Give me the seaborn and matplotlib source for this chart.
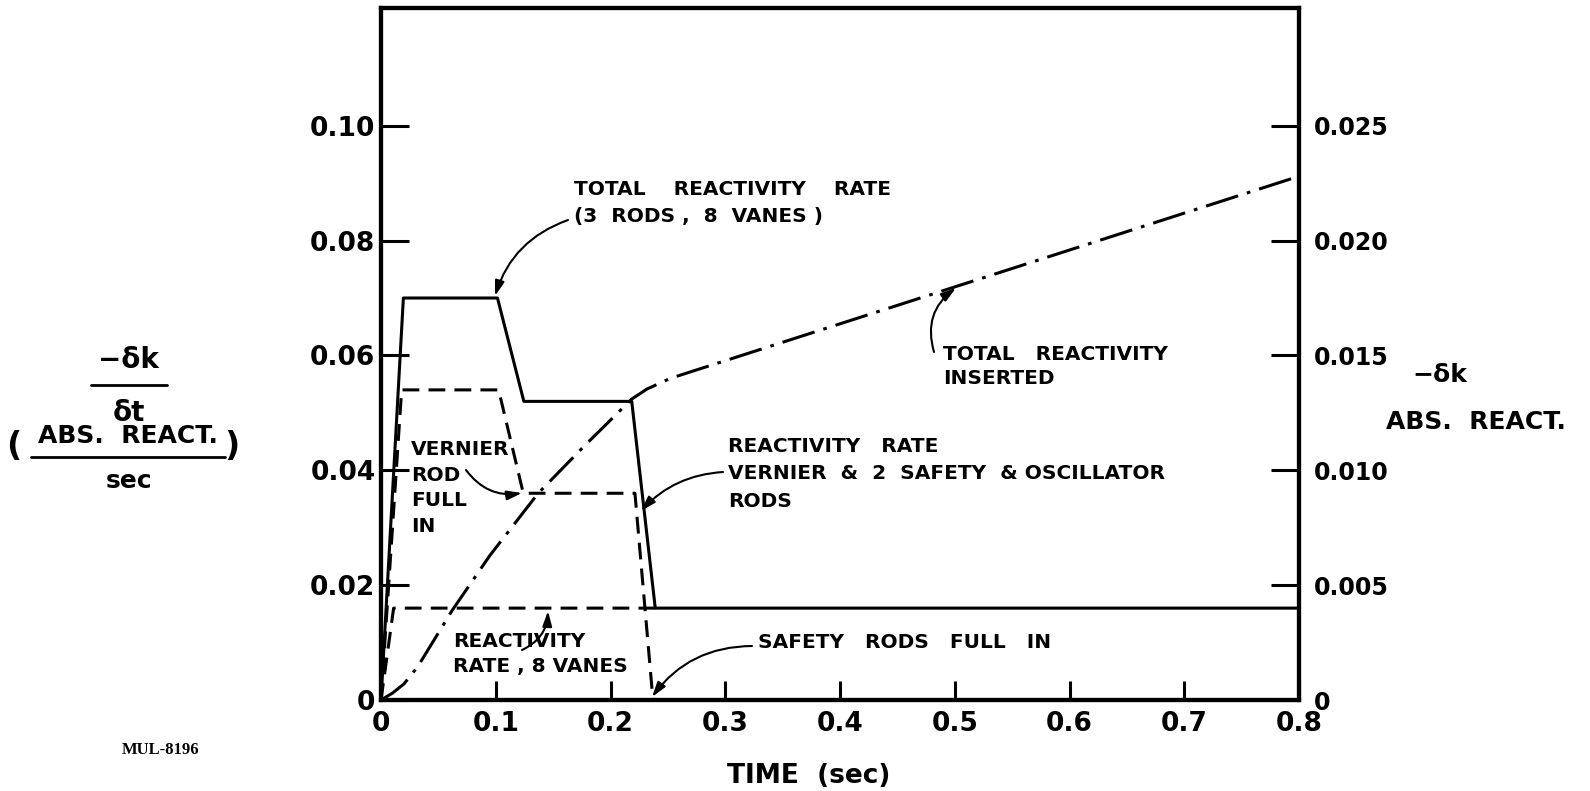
import matplotlib
matplotlib.use("Agg")
import matplotlib.pyplot as plt
import seaborn as sns
from matplotlib.lines import Line2D

# Time (s) and reactivity rate curves (abs. react. / s), left-hand scale
t_total = [0.0, 0.0195, 0.1015, 0.1245, 0.2185, 0.239, 0.8]
rate_total = [0.0, 0.070, 0.070, 0.052, 0.052, 0.016, 0.016]

t_rods = [0.0, 0.018, 0.1025, 0.124, 0.2213, 0.237]
rate_rods = [0.0, 0.054, 0.054, 0.036, 0.036, 0.0]

t_vanes = [0.0, 0.011, 0.239]
rate_vanes = [0.0, 0.016, 0.016]

# Total reactivity inserted (abs. react.), right-hand scale
t_inserted = [0.0, 0.01, 0.02, 0.032, 0.062, 0.095, 0.137, 0.178, 0.2185,
              0.2315, 0.252, 0.8]
dk_inserted = [0.0, 0.0003, 0.0007, 0.00145, 0.0039, 0.0063, 0.0090, 0.0111,
               0.0131, 0.01353, 0.0140, 0.0228]

x_ticks = [0.0, 0.1, 0.2, 0.3, 0.4, 0.5, 0.6, 0.7, 0.8]
x_labels = ["0", "0.1", "0.2", "0.3", "0.4", "0.5", "0.6", "0.7", "0.8"]
rate_ticks = [0.0, 0.02, 0.04, 0.06, 0.08, 0.10]
rate_labels = ["0", "0.02", "0.04", "0.06", "0.08", "0.10"]
dk_ticks = [0.0, 0.005, 0.010, 0.015, 0.020, 0.025]
dk_labels = ["0", "0.005", "0.010", "0.015", "0.020", "0.025"]

RATE_MAX = 0.1205
W, H = 1590, 791

sns.set_style("ticks")
plt.rcParams["font.family"] = ["DejaVu Sans"]
plt.rcParams["font.weight"] = "bold"
for key in ("text.color", "axes.labelcolor", "xtick.color", "ytick.color",
            "xtick.labelcolor", "ytick.labelcolor", "axes.edgecolor"):
    plt.rcParams[key] = "black"

fig = plt.figure(figsize=(W / 100, H / 100), dpi=100)
ax = fig.add_axes([381 / W, 1 - 700 / H, (1299 - 381) / W, (700 - 8) / H])
ax2 = ax.twinx()

lw = 2.2
sns.lineplot(x=t_vanes, y=rate_vanes, ax=ax, color="black", lw=lw,
             linestyle=(0, (5.5, 3)), sort=False, estimator=None)
sns.lineplot(x=t_rods, y=rate_rods, ax=ax, color="black", lw=lw,
             linestyle=(0, (5.5, 3)), sort=False, estimator=None)
sns.lineplot(x=t_total, y=rate_total, ax=ax, color="black", lw=lw,
             sort=False, estimator=None)
sns.lineplot(x=t_inserted, y=dk_inserted, ax=ax2, color="black", lw=lw,
             linestyle=(0, (11, 3, 1.2, 3)), sort=False, estimator=None)

ax.set_xlim(0, 0.8)
ax.set_ylim(0, RATE_MAX)
ax2.set_ylim(0, RATE_MAX / 4)

ax.set_xticks(x_ticks)
ax.set_xticklabels(x_labels)
ax.set_yticks(rate_ticks)
ax.set_yticklabels(rate_labels)
ax2.set_yticks(dk_ticks)
ax2.set_yticklabels(dk_labels)

ax.tick_params(axis="x", direction="in", length=14, width=2.2, pad=8,
               labelsize=19, top=False, colors="black")
ax.tick_params(axis="y", direction="in", length=20, width=2.2, pad=4,
               labelsize=19, right=False, colors="black")
ax2.tick_params(axis="y", direction="in", length=20, width=2.2, pad=11,
                labelsize=17, colors="black")
for a in (ax, ax2):
    for s in a.spines.values():
        s.set_visible(True)
        s.set_linewidth(3)
        s.set_color("black")
ax.set_xlabel("")
ax.set_ylabel("")
ax2.set_ylabel("")

# Annotations
ann_font = dict(fontsize=14.5, fontweight="bold", color="black",
                va="center", ha="left", linespacing=1.45)
arrow = dict(arrowstyle="-|>,head_length=0.9,head_width=0.28", lw=1.5,
             color="black", shrinkA=0, shrinkB=0)


def px_to_data(px, py):
    return (px - 381) / 1147.5, (700 - py) / 5743.0


def label(px, py, text):
    x, y = px_to_data(px, py)
    ax.text(x, y, text, **ann_font)


def pointer(tail, head, rad):
    ax.annotate("", xy=px_to_data(*head), xytext=px_to_data(*tail),
                arrowprops=dict(connectionstyle=f"arc3,rad={rad}", **arrow))


label(574, 189, "TOTAL    REACTIVITY    RATE")
label(574, 216, "(3  RODS ,  8  VANES )")
pointer((568, 220), (495, 296), 0.25)

label(411, 488, "VERNIER\nROD\nFULL\nIN")
pointer((466, 470), (522, 493), 0.3)

label(943, 354, "TOTAL   REACTIVITY")
label(943, 378, "INSERTED")
pointer((934, 352), (956, 288), -0.35)

label(728, 446, "REACTIVITY   RATE")
label(728, 473.5, "VERNIER  &  2  SAFETY  & OSCILLATOR")
label(728, 501, "RODS")
pointer((723, 472), (641, 511), 0.2)

label(453, 641, "REACTIVITY")
label(453, 666, "RATE , 8 VANES")
pointer((522, 650), (548, 611), 0.3)

label(758, 642, "SAFETY   RODS   FULL   IN")
pointer((752, 646), (652, 697), 0.25)


# Axis titles and fraction labels placed in figure pixels
def ftext(px, py, s, **kw):
    fig.text(px / W, 1 - py / H, s, **kw)


def fbar(x0, x1, py, lw_=2.0):
    fig.add_artist(Line2D([x0 / W, x1 / W], [1 - py / H, 1 - py / H],
                          transform=fig.transFigure, color="black", lw=lw_))


lab = dict(ha="center", va="center", fontweight="bold", color="black")
ftext(128, 360, "\u2212\u03b4k", fontsize=20, **lab)
fbar(91, 167, 385)
ftext(129, 413, "\u03b4t", fontsize=20, **lab)
ftext(14, 446, "(", fontsize=24, **lab)
ftext(128, 436, "ABS.  REACT.", fontsize=18, **lab)
fbar(31, 225, 457)
ftext(129, 481, "sec", fontsize=18, **lab)
ftext(232, 446, ")", fontsize=24, **lab)

ftext(1440, 375, "\u2212\u03b4k", fontsize=18, **lab)
ftext(1476, 422, "ABS.  REACT.", fontsize=18, **lab)

ftext(809, 776, "TIME  (sec)", fontsize=19, **lab)
ftext(122, 750, "MUL-8196", fontsize=12, ha="left", va="center",
      fontweight="bold", family=["Liberation Serif"])

fig.savefig("out.png", dpi=100, facecolor="white")
